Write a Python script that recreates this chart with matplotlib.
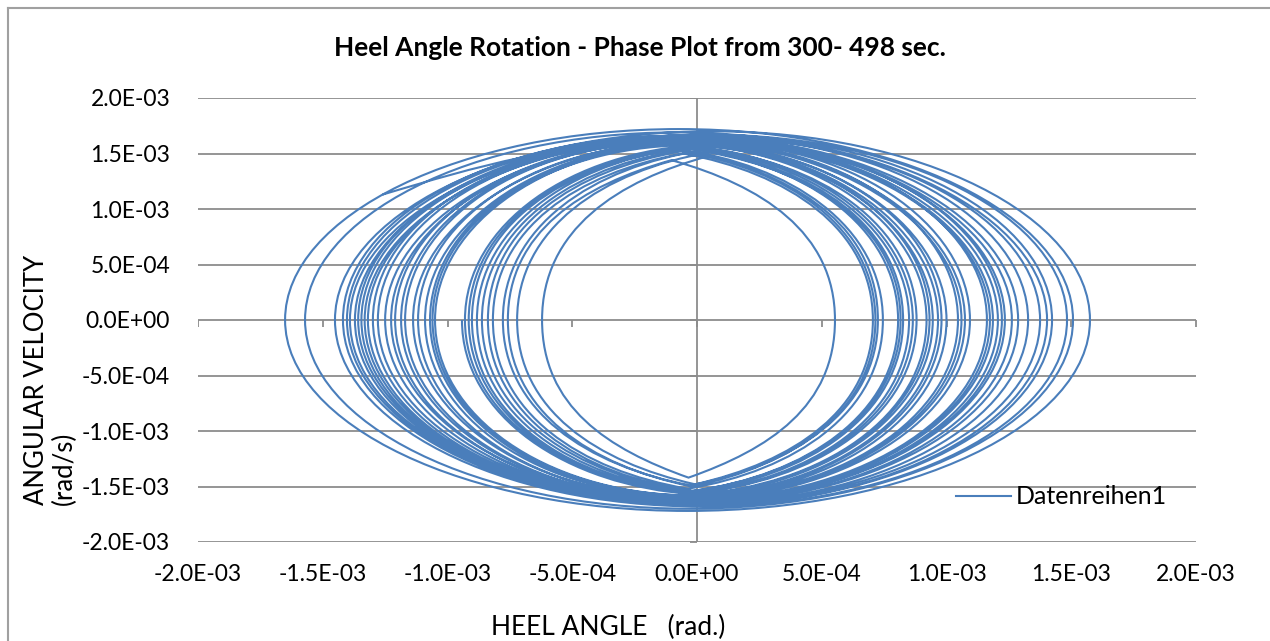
import numpy as np
import matplotlib.pyplot as plt
from matplotlib.path import Path
from matplotlib.patches import PathPatch
from matplotlib.lines import Line2D
from matplotlib.ticker import FuncFormatter

plt.rcParams['font.family'] = ['Lato', 'DejaVu Sans']

# Phasenplot: Umkehrpunkte (v = 0) und Geschwindigkeitsspitzen je Halbschwingung, in 1E-3
start_punkt = (-1.26, 1.13)
krängung_rechts = [1.174, 1.234, 1.375, 1.483, 1.575, 1.507, 1.403, 1.287, 1.206, 1.074,
                   0.966, 0.865, 0.806, 0.715, 0.553, 0.725, 0.826, 0.932, 1.046, 1.162,
                   1.222, 1.327, 1.423, 1.262, 1.186, 1.060, 0.945, 0.850, 0.745, 0.705,
                   0.816, 0.880, 0.980, 1.094, 1.000, 0.920]
krängung_links = [-1.250, -1.332, -1.391, -1.451, -1.651, -1.571, -1.403, -1.358, -1.299, -1.186,
                  -1.070, -0.915, -0.838, -0.758, -0.621, -0.778, -0.882, -1.050, -1.138, -1.226,
                  -1.319, -1.371, -1.419, -1.345, -1.279, -1.170, -1.060, -0.902, -0.818, -0.721,
                  -0.862, -0.930, -1.090, -1.210, -1.118, -0.942]
geschw_oben = [1.62, 1.63, 1.65, 1.67, 1.70, 1.72, 1.69, 1.66, 1.65, 1.63,
               1.60, 1.58, 1.55, 1.52, 1.44, 1.48, 1.53, 1.57, 1.60, 1.62,
               1.64, 1.66, 1.67, 1.66, 1.64, 1.62, 1.60, 1.57, 1.54, 1.50,
               1.51, 1.55, 1.58, 1.61, 1.61, 1.59]
geschw_unten = [-1.63, -1.64, -1.66, -1.68, -1.72, -1.70, -1.67, -1.65, -1.64, -1.61,
                -1.59, -1.56, -1.54, -1.50, -1.42, -1.49, -1.55, -1.58, -1.60, -1.62,
                -1.64, -1.66, -1.67, -1.65, -1.63, -1.61, -1.58, -1.56, -1.52, -1.48,
                -1.54, -1.56, -1.59, -1.62, -1.60, -1.57]

achsen_ticks = [-2.0e-3, -1.5e-3, -1.0e-3, -5.0e-4, 0.0, 5.0e-4, 1.0e-3, 1.5e-3, 2.0e-3]

farbe = '#4A7EBB'
grau = '#8C8C8C'
skala = 1e-3
k = 0.55


def spitze(w):
    # kleine Schleifen laufen oben/unten spitz zu
    return 0.18 * np.clip((1.05 - w) / 0.45, 0, 1)


def halbschwingung(x0, x1, v):
    xc = (x0 + x1) / 2
    c = spitze(abs(x1 - x0) / 2)
    return [(x0, k * v), (xc - k * (xc - x0), v * (1 - c)), (xc, v),
            (xc + k * (x1 - xc), v * (1 - c)), (x1, k * v), (x1, 0.0)]


verts = [start_punkt]
codes = [Path.MOVETO]
sx, sy = start_punkt
x_vorher = sx
for i in range(len(krängung_rechts)):
    xr = krängung_rechts[i]
    if i == 0:
        xc = (sx + xr) / 2
        v = geschw_oben[0]
        verts += [(sx + 0.3 * (xc - sx), sy + 0.5 * (v - sy)), (xc - 0.4 * (xc - sx), v), (xc, v),
                  (xc + k * (xr - xc), v), (xr, k * v), (xr, 0.0)]
    else:
        verts += halbschwingung(x_vorher, xr, geschw_oben[i])
    codes += [Path.CURVE4] * 6
    verts += halbschwingung(xr, krängung_links[i], geschw_unten[i])
    codes += [Path.CURVE4] * 6
    x_vorher = krängung_links[i]

verts = np.array(verts) * skala

fig = plt.figure(figsize=(12.7, 6.41), dpi=100)
ax = fig.add_axes([198 / 1270, 1 - 542 / 641, 998 / 1270, 444 / 641])

for y in achsen_ticks:
    ax.axhline(y, color=grau, lw=1.3, zorder=1)
ax.axvline(0, color=grau, lw=1.3, zorder=1)
ax.plot(achsen_ticks, [0] * len(achsen_ticks), ls='none', marker=3, ms=5, mew=1.3, color=grau, zorder=1)
ax.plot([0] * len(achsen_ticks), achsen_ticks, ls='none', marker=0, ms=5, mew=1.3, color=grau, zorder=1)

ax.add_patch(PathPatch(Path(verts, codes), fill=False, edgecolor=farbe, lw=1.5, zorder=2))

ax.set_xlim(-2e-3, 2e-3)
ax.set_ylim(-2e-3, 2e-3)
ax.set_xticks(achsen_ticks)
ax.set_yticks(achsen_ticks)
fmt = FuncFormatter(lambda v, p: f'{v:.1E}')
ax.xaxis.set_major_formatter(fmt)
ax.yaxis.set_major_formatter(fmt)
ax.tick_params(length=0, labelsize=16.5)
ax.tick_params(axis='x', pad=16)
ax.tick_params(axis='y', pad=20)
for s in ax.spines.values():
    s.set_visible(False)

fig.text(640 / 1270, 1 - 48 / 641, 'Heel Angle Rotation - Phase Plot from 300- 498 sec.',
         ha='center', va='center', fontsize=19, fontweight='bold')
fig.text(608 / 1270, 1 - 627 / 641, 'HEEL ANGLE   (rad.)', ha='center', va='center', fontsize=19)
fig.text(24 / 1270, 1 - 505 / 641, 'ANGULAR VELOCITY\n(rad/s)', rotation=90, ha='left', va='bottom',
         multialignment='left', fontsize=18.5, linespacing=1.15)

ax.legend([Line2D([], [], color=farbe, lw=1.5)], ['Datenreihen1'], loc='center left',
          bbox_to_anchor=(943 / 1270, 1 - 497 / 641), bbox_transform=fig.transFigure,
          frameon=False, fontsize=18, handlelength=2.2, handletextpad=0.2, borderpad=0)

fig.add_artist(Line2D([8 / 1270, 8 / 1270], [-0.1, 1 - 8 / 641], color='#A0A0A0', lw=1.5))
fig.add_artist(Line2D([8 / 1270, 1.1], [1 - 8 / 641, 1 - 8 / 641], color='#A0A0A0', lw=1.5))

fig.savefig('out.png', dpi=100)
